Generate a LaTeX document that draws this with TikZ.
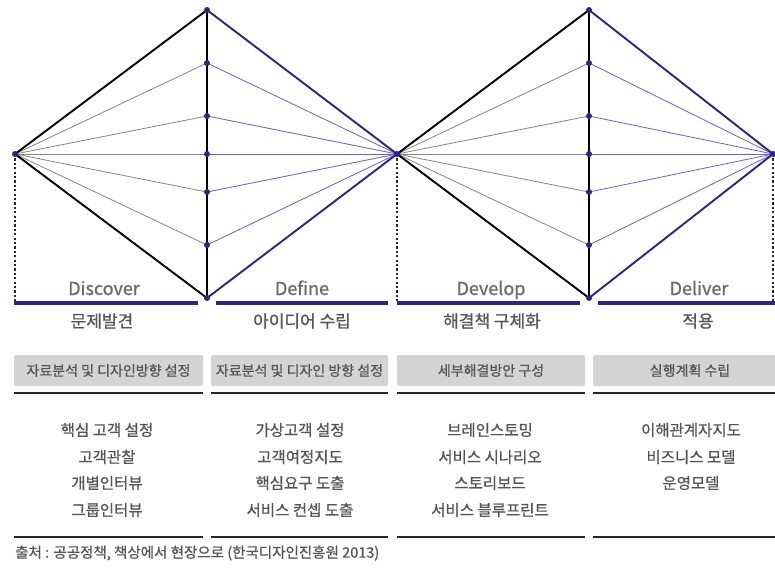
\documentclass[tikz,border=0pt]{standalone}
\usepackage{fontspec}
\setmainfont{Noto Sans CJK KR}[FakeBold=0.7]
\definecolor{navy}{HTML}{2D238C}
\definecolor{rayblue}{HTML}{6A60D0}
\definecolor{raygray}{HTML}{858585}
\definecolor{boxgray}{HTML}{D4D4D4}
\definecolor{txtgray}{HTML}{555555}
\definecolor{lblgray}{HTML}{6A6A6A}
\begin{document}
\begin{tikzpicture}[x=1pt,y=-1pt,
  dot/.style={circle,fill=navy,inner sep=0pt,minimum size=6pt},
  edgek/.style={black,line width=1.9pt,line join=round},
  edgeb/.style={navy,line width=1.9pt,line join=round},
  rayg/.style={raygray,line width=0.8pt},
  rayb/.style={rayblue,line width=0.8pt},
  dotline/.style={black!85,line width=1.4pt,dash pattern=on 2.2pt off 2.2pt},
  bar/.style={navy,line width=3.8pt},
  rulel/.style={black!85,line width=1.9pt},
  boxn/.style={fill=boxgray,rounded corners=2pt,minimum height=31pt,inner sep=0pt,text=txtgray,font=\fontsize{14}{16}\selectfont},
  lbl/.style={anchor=base,text=lblgray,font=\fontsize{18}{20}\selectfont,inner sep=0pt},
  sub/.style={text=txtgray,font=\fontsize{17}{19}\selectfont,inner sep=0pt},
  item/.style={text=txtgray,font=\fontsize{15.5}{17}\selectfont,inner sep=0pt},
  src/.style={anchor=west,text=txtgray,font=\fontsize{14.5}{16}\selectfont,inner sep=0pt}
]
\useasboundingbox (0,0) rectangle (775,568);
\clip (0,0) rectangle (775,568);
\fill[white] (0,0) rectangle (775,568);

% diamond geometry
\foreach \i/\xl/\xm/\xr in {1/15/207/397,2/397/589/773}{
  \coordinate (L\i) at (\xl,154);
  \coordinate (T\i) at (\xm,10);
  \coordinate (B\i) at (\xm,298);
  \coordinate (R\i) at (\xr,154);
  \foreach \j/\yy in {1/63,2/116,3/154,4/192,5/245}{
    \coordinate (M\i\j) at (\xm,\yy);
  }
}
\coordinate (F1) at (15,301);
\coordinate (F2) at (397,301);
\coordinate (F3) at (773,301);

% dotted drops
\draw[dotline] (L1) -- (F1);
\draw[dotline] (R1) -- (F2);
\draw[dotline] (R2) -- (F3);

% rays and edges
\foreach \i in {1,2}{
  \foreach \j in {1,...,5}{
    \draw[rayg] (L\i) -- (M\i\j);
    \draw[rayb] (M\i\j) -- (R\i);
  }
  \draw[edgek] (T\i) -- (L\i) -- (B\i);
  \draw[edgek] (T\i) -- (B\i);
  \draw[edgeb] (T\i) -- (R\i) -- (B\i);
}

% dots
\foreach \p in {L1,T1,B1,R1,T2,B2,R2,M11,M12,M13,M14,M15,M21,M22,M23,M24,M25}{
  \node[dot] (d\p) at (\p) {};
}

% phase bars
\draw[bar] (14,303) -- (198,303);
\draw[bar] (216,303) -- (388,303);
\draw[bar] (397,303) -- (580,303);
\draw[bar] (598,303) -- (780,303);

% phase labels
\node[lbl] (n1) at (104,295) {Discover};
\node[lbl] (n2) at (302,295) {Define};
\node[lbl] (n3) at (491,295) {Develop};
\node[lbl] (n4) at (699,295) {Deliver};

\node[sub] (k1) at (102,321) {문제발견};
\node[sub] (k2) at (302,321) {아이디어 수립};
\node[sub] (k3) at (492,321) {해결책 구체화};
\node[sub] (k4) at (698,321) {적용};

% gray boxes
\node[boxn,minimum width=189pt] (b1) at (108.5,370.5) {자료분석 및 디자인방향 설정};
\node[boxn,minimum width=177pt] (b2) at (299.5,370.5) {자료분석 및 디자인 방향 설정};
\node[boxn,minimum width=188pt] (b3) at (491,370.5) {세부해결방안 구성};
\node[boxn,minimum width=194pt] (b4) at (690,370.5) {실행계획 수립};

% rules
\foreach \ya in {393,537}{
  \draw[rulel] (14,\ya) -- (203,\ya);
  \draw[rulel] (211,\ya) -- (388,\ya);
  \draw[rulel] (397,\ya) -- (585,\ya);
  \draw[rulel] (593,\ya) -- (780,\ya);
}

% method lists
\node[item] (a1) at (107,430) {핵심 고객 설정};
\node[item] (a2) at (107,457) {고객관찰};
\node[item] (a3) at (107,483) {개별인터뷰};
\node[item] (a4) at (107,510) {그룹인터뷰};

\node[item] (c1) at (300,430) {가상고객 설정};
\node[item] (c2) at (300,457) {고객여정지도};
\node[item] (c3) at (300,483) {핵심요구 도출};
\node[item] (c4) at (300,510) {서비스 컨셉 도출};

\node[item] (e1) at (490,430) {브레인스토밍};
\node[item] (e2) at (490,457) {서비스 시나리오};
\node[item] (e3) at (490,483) {스토리보드};
\node[item] (e4) at (490,510) {서비스 블루프린트};

\node[item] (g1) at (691,430) {이해관계자지도};
\node[item] (g2) at (691,457) {비즈니스 모델};
\node[item] (g3) at (691,483) {운영모델};

% source
\node[src] (s) at (15,553) {출처 : 공공정책, 책상에서 현장으로 (한국디자인진흥원 2013)};
\end{tikzpicture}
\end{document}
